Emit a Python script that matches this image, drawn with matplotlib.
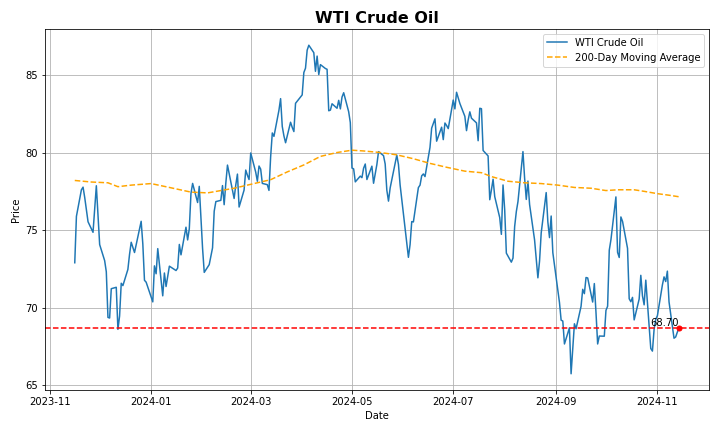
import pandas as pd
import numpy as np
import matplotlib
matplotlib.use('Agg')
import matplotlib.pyplot as plt

# daily closes, 2023-11-16 .. 2024-11-14 (NYMEX trading days)
start_date = '2023-11-16'
end_date = '2024-11-14'
market_holidays = ['2023-11-23', '2023-12-25', '2024-01-01', '2024-01-15', '2024-02-19',
                   '2024-03-29', '2024-05-27', '2024-06-19', '2024-07-04', '2024-09-02']

close_2023 = [72.90, 75.89, 77.60, 77.77, 77.10, 75.54, 74.86, 76.41, 77.86, 75.96,
              74.07, 73.04, 72.32, 69.38, 69.34, 71.23, 71.32, 68.61, 69.47, 71.58,
              71.43, 72.47, 73.44, 74.22, 73.89, 73.56, 75.57, 74.11, 71.77, 71.65]
close_jan_feb = [70.38, 72.70, 72.19, 73.81, 70.77, 72.24, 71.37, 72.02, 72.68, 72.40,
                 72.56, 74.08, 73.41, 75.19, 74.37, 75.09, 77.36, 78.01, 76.78, 77.82, 75.85,
                 73.82, 72.28, 72.78, 73.31, 73.86, 76.22, 76.84, 76.92, 77.87, 76.64,
                 78.03, 79.19, 77.04, 77.91, 78.61, 76.49, 77.58, 78.87, 78.54, 78.26]
close_mar_apr = [79.97, 78.74, 78.15, 79.13, 78.93, 78.01, 77.93, 77.56, 79.72, 81.26,
                 81.04, 82.72, 83.47, 81.68, 81.07, 80.63, 81.95, 81.62, 81.35, 83.17,
                 83.71, 85.15, 85.43, 86.59, 86.91, 86.43, 85.23, 86.21, 85.02, 85.66, 85.41,
                 85.36, 82.69, 82.73, 83.14, 82.85, 83.36, 82.81, 83.57, 83.85, 82.63, 81.93]
close_may_jun = [79.00, 78.95, 78.11, 78.48, 78.38, 78.99, 79.26, 78.26, 79.12, 78.02, 78.63,
                 79.23, 80.06, 79.80, 79.26, 77.57, 76.87, 77.72, 79.83, 79.23, 77.91, 76.99,
                 74.22, 73.25, 74.07, 75.55, 75.53, 77.74, 77.90, 78.50, 78.62, 78.45,
                 80.33, 81.57, 82.17, 80.73, 81.63, 80.83, 81.90, 81.74, 81.54]
close_jul_aug = [83.38, 82.81, 83.88, 83.16, 82.33, 81.41, 82.10, 82.62, 82.21, 81.91, 80.76,
                 82.85, 82.82, 80.13, 79.78, 76.96, 77.59, 78.28, 77.16, 75.81, 74.73, 77.91,
                 76.31, 73.52, 72.94, 73.20, 75.23, 76.19, 76.84, 80.06, 78.35, 76.98, 78.16,
                 76.65, 74.37, 73.17, 71.93, 73.01, 74.83, 77.42, 75.53, 74.52, 75.91, 73.55]
close_sep_oct = [70.34, 69.20, 69.15, 67.67, 68.71, 65.75, 67.31, 68.97, 68.65, 70.09,
                 71.19, 70.91, 71.95, 71.92, 70.37, 71.56, 69.69, 67.67, 68.18, 68.17,
                 69.83, 70.10, 73.71, 74.38, 77.14, 73.57, 73.24, 75.85, 75.56, 73.83, 70.58,
                 70.39, 70.67, 69.22, 70.56, 72.09, 70.77, 70.19, 71.78, 67.38, 67.21, 68.61, 69.26]
close_nov = [69.49, 71.47, 71.99, 71.69, 72.36, 70.38, 68.04, 68.12, 68.43, 68.70]

# 200-day moving average, read off at roughly weekly spacing
ma_dates = ['2023-11-16', '2023-11-26', '2023-12-06', '2023-12-12', '2023-12-20', '2024-01-01',
            '2024-01-12', '2024-01-25', '2024-02-04', '2024-02-12', '2024-02-20', '2024-03-01',
            '2024-03-13', '2024-03-23', '2024-04-02', '2024-04-12', '2024-04-22', '2024-05-01',
            '2024-05-08', '2024-05-18', '2024-05-28', '2024-06-07', '2024-06-17', '2024-06-27',
            '2024-07-08', '2024-07-18', '2024-07-24', '2024-08-03', '2024-08-13', '2024-08-23',
            '2024-09-02', '2024-09-12', '2024-09-22', '2024-10-01', '2024-10-08', '2024-10-18',
            '2024-10-24', '2024-11-01', '2024-11-08', '2024-11-14']
ma_values = [78.2, 78.1, 78.05, 77.8, 77.9, 78.0,
             77.75, 77.45, 77.4, 77.55, 77.7, 77.95,
             78.25, 78.75, 79.2, 79.75, 80.0, 80.15,
             80.1, 80.0, 79.85, 79.6, 79.3, 79.05,
             78.8, 78.7, 78.45, 78.15, 78.05, 78.0,
             77.9, 77.75, 77.7, 77.55, 77.6, 77.6,
             77.5, 77.35, 77.25, 77.15]


def build_series():
    days = pd.bdate_range(start_date, end_date, freq='C', holidays=market_holidays)
    closes = close_2023 + close_jan_feb + close_mar_apr + close_may_jun + close_jul_aug + close_sep_oct + close_nov
    return pd.Series(closes, index=days)


def plot_prices(prices, graph_path='out.png'):
    plt.figure(figsize=(10, 6), dpi=72)
    plt.plot(prices.index, prices.values, label='WTI Crude Oil')
    plt.plot(pd.to_datetime(ma_dates), ma_values, label='200-Day Moving Average',
             linestyle='--', color='orange')

    last = prices.iloc[-1]
    plt.axhline(last, color='red', linestyle='--')
    plt.plot(prices.index[-1], last, 'o', color='red', markersize=5)
    plt.text(prices.index[-1], last, f'{last:.2f}', ha='right', va='bottom')

    plt.title('WTI Crude Oil', fontsize=16, fontweight='bold')
    plt.xlabel('Date')
    plt.ylabel('Price')
    plt.legend(loc='upper right')
    plt.grid(True)
    plt.tight_layout()
    plt.savefig(graph_path)
    plt.close()
    return graph_path


def main():
    prices = build_series()
    plot_prices(prices)


if __name__ == "__main__":
    main()
